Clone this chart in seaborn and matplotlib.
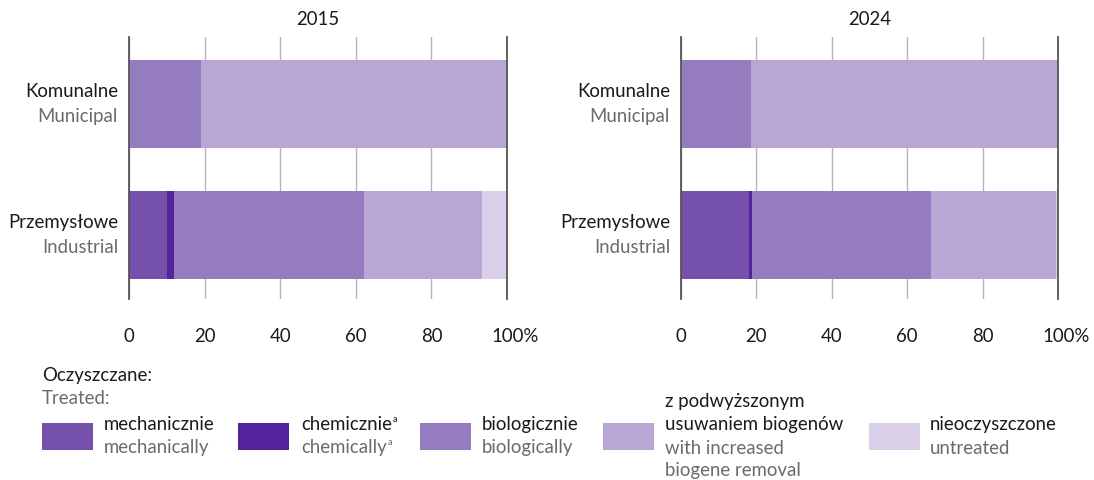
import pandas as pd
import matplotlib.pyplot as plt
import seaborn as sns
from matplotlib.patches import Rectangle
from matplotlib.transforms import ScaledTranslation

# ------------------------------------------------------
# Data (shares in %)
# ------------------------------------------------------
years = ["2015", "2024"]
categories_pl = ["Komunalne", "Przemysłowe"]
categories_en = ["Municipal", "Industrial"]

segments_pl = ["mechanicznie", "chemicznie", "biologicznie",
               "z podwyższonym\nusuwaniem biogenów", "nieoczyszczone"]
segments_en = ["mechanically", "chemically", "biologically",
               "with increased\nbiogene removal", "untreated"]

# order of values per category: mechanical, chemical, biological, increased, untreated
municipal_2015 = [0.0, 0.0, 19.0, 81.0, 0.0]
industrial_2015 = [10.0, 1.9, 50.3, 31.2, 6.6]
municipal_2024 = [0.0, 0.0, 18.6, 81.4, 0.0]
industrial_2024 = [18.0, 0.9, 47.4, 33.2, 0.5]

colors = ["#7551ab", "#52239a", "#957cbf", "#b8a7d4", "#dbd0e9"]
tick_vals = [0, 20, 40, 60, 80, 100]
tick_labels = ["0", "20", "40", "60", "80", "100%"]

# ------------------------------------------------------
# Build long table with cumulative ends for stacking
# ------------------------------------------------------
rows = []
for year, mun, ind in [("2015", municipal_2015, industrial_2015),
                       ("2024", municipal_2024, industrial_2024)]:
    for cat, vals in zip(categories_pl, [mun, ind]):
        total = 0.0
        for k, v in enumerate(vals):
            total += v
            rows.append({"year": year, "category": cat, "segment": k, "end": total})
df = pd.DataFrame(rows)

# ------------------------------------------------------
# Plot
# ------------------------------------------------------
sns.set_style("white")
plt.rcParams["font.family"] = ["Lato", "DejaVu Sans"]

W, H = 1094, 481
fig = plt.figure(figsize=(W / 100, H / 100), dpi=100)
black = "#1a1a1a"
grey = "#6b6b6b"
fs = 13.4

axes = [fig.add_axes([129 / W, 1 - 300 / H, 378 / W, 262 / H]),
        fig.add_axes([681 / W, 1 - 300 / H, 377 / W, 262 / H])]

for ax, year in zip(axes, years):
    sub = df[df["year"] == year]
    # draw longest cumulative first so shorter ones sit on top
    for k in reversed(range(len(segments_pl))):
        seg = sub[sub["segment"] == k]
        sns.barplot(data=seg, x="end", y="category", order=categories_pl,
                    color=colors[k], saturation=1, width=0.67, orient="h",
                    linewidth=0, ax=ax)
    ax.set_xlim(0, 100)
    ax.set_ylim(1.49, -0.51)
    ax.set_xticks(tick_vals)
    ax.set_xticklabels(tick_labels, fontsize=fs, color=black)
    ax.tick_params(axis="x", length=0, pad=20)
    ax.set_yticks([])
    ax.set_xlabel("")
    ax.set_ylabel("")
    ax.set_axisbelow(True)
    ax.grid(axis="x", color="#b5b5b5", linewidth=1.0)
    ax.grid(axis="y", visible=False)
    for side in ["top", "bottom"]:
        ax.spines[side].set_visible(False)
    for side in ["left", "right"]:
        ax.spines[side].set_color("#555555")
        ax.spines[side].set_linewidth(1.3)
    # shift "100%" so that the number sits on the tick
    lbl = ax.get_xticklabels()[-1]
    lbl.set_transform(lbl.get_transform() + ScaledTranslation(8 / 100, 0, fig.dpi_scale_trans))
    ax.set_title(year, fontsize=fs, color=black, pad=9)

    for i, (pl, en) in enumerate(zip(categories_pl, categories_en)):
        ax.annotate(pl, xy=(0, i), xycoords=("axes fraction", "data"),
                    xytext=(-11, 13), textcoords="offset pixels",
                    ha="right", va="center", fontsize=fs, color=black)
        ax.annotate(en, xy=(0, i), xycoords=("axes fraction", "data"),
                    xytext=(-11, -12), textcoords="offset pixels",
                    ha="right", va="center", fontsize=fs, color=grey)

# ------------------------------------------------------
# Custom legend
# ------------------------------------------------------
def ftext(x, y, s, **kw):
    return fig.text(x / W, 1 - y / H, s, va="center", ha="left", fontsize=fs, **kw)

ftext(42, 376, "Oczyszczane:", color=black)
ftext(42, 398, "Treated:", color=grey)

patch_x = [42, 238, 420, 603, 869]
text_x = [104, 301, 482, 665, 930]
for k in range(len(segments_pl)):
    fig.add_artist(Rectangle((patch_x[k] / W, 1 - 451 / H), 51 / W, 27 / H,
                             transform=fig.transFigure, color=colors[k], lw=0))
    pl_lines = segments_pl[k].split("\n")
    en_lines = segments_en[k].split("\n")
    y0 = 425 - 23 * (len(pl_lines) - 1)
    for j, line in enumerate(pl_lines):
        t_pl = ftext(text_x[k], y0 + 23 * j, line, color=black)
    for j, line in enumerate(en_lines):
        t_en = ftext(text_x[k], 448 + 23 * j, line, color=grey)
    if k == 1:
        for t, c in [(t_pl, black), (t_en, grey)]:
            axes[0].annotate("a", xy=(1, 1), xycoords=t, xytext=(0.5, 1),
                             textcoords="offset points", fontsize=6.5,
                             color=c, ha="left", va="top", annotation_clip=False)

fig.savefig("out.png", dpi=100)
